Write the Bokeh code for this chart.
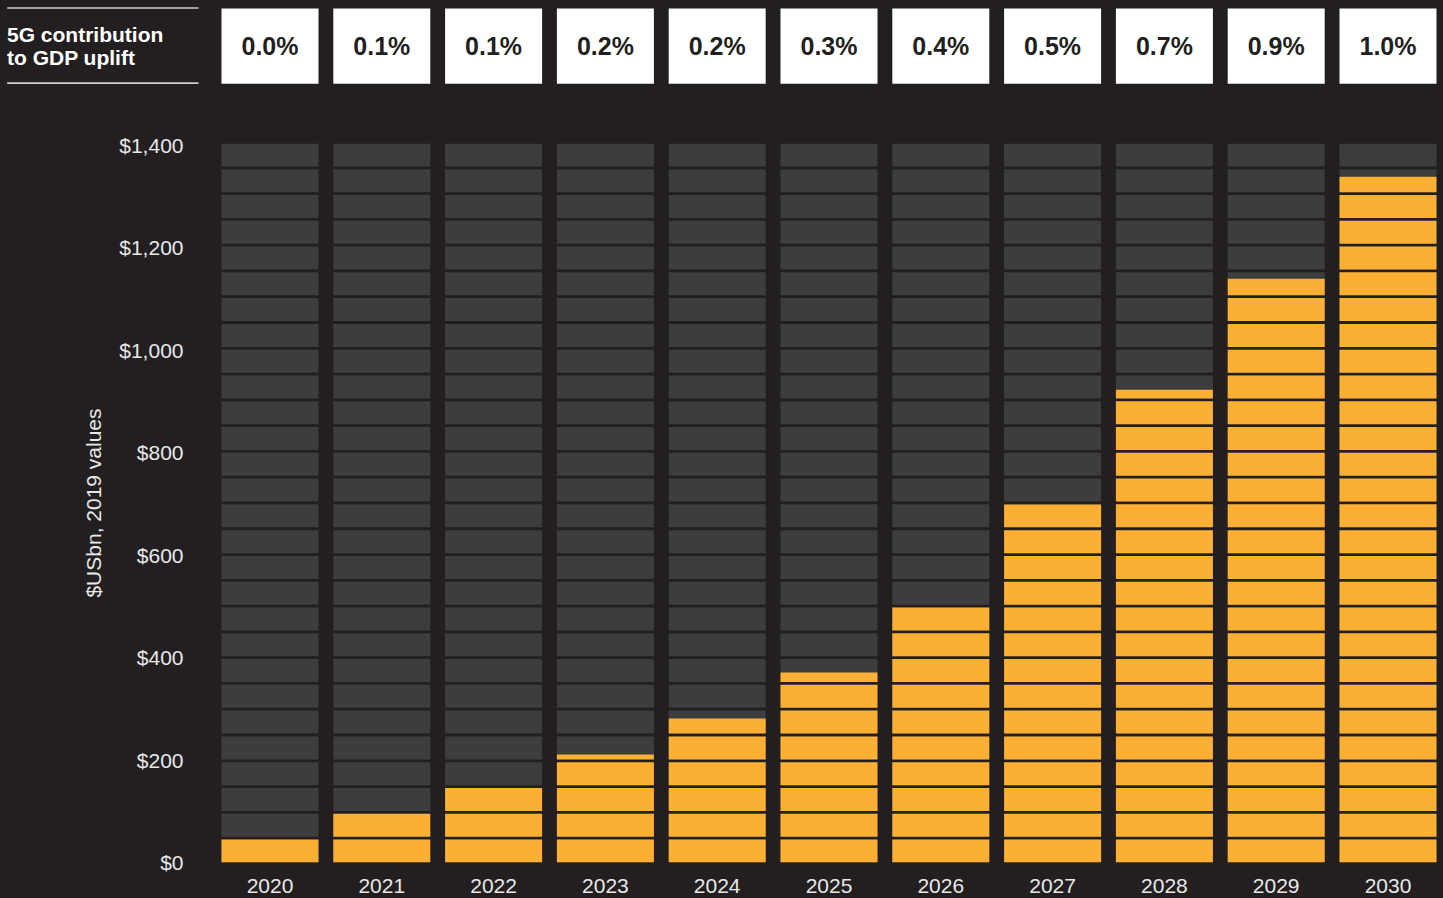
from bokeh.plotting import figure
from bokeh.layouts import column
from bokeh.models import Range1d, FixedTicker, NumeralTickFormatter, GlobalInlineStyleSheet
from bokeh.core.properties import value
from bokeh.embed import file_html
from bokeh.resources import INLINE

# ---------------- data ----------------
years = ["2020", "2021", "2022", "2023", "2024", "2025", "2026", "2027", "2028", "2029", "2030"]
gdp_uplift = [47, 96, 147, 211, 281, 371, 498, 699, 923, 1140, 1339]   # $USbn, 2019 values
gdp_share = ["0.0%", "0.1%", "0.1%", "0.2%", "0.2%", "0.3%", "0.4%", "0.5%", "0.7%", "0.9%", "1.0%"]
y_ticks = [0, 200, 400, 600, 800, 1000, 1200, 1400]
header_lines = ["5G contribution", "to GDP uplift"]
y_title = "$USbn, 2019 values"

# ---------------- style ----------------
BG = "#231f20"
GRAY = "#3d3d3d"
ORANGE = "#fbb034"
TXT = "#e8e8e8"
FONT = "Liberation Sans"

W = 1443
TOP_H = 100
BOT_H = 798
PITCH = 111.8          # px per category
X0 = 269.5             # px centre of first category
FRAME_L = 205
BAR_W = 97 / PITCH

x_start = (FRAME_L - X0) / PITCH
x_end = (W - X0) / PITCH

PX_PER_UNIT = 717 / 1400
Y_END = 719 / PX_PER_UNIT
STRIPE = 25.78 / PX_PER_UNIT
STRIPE_FILL = 23 / PX_PER_UNIT
N_STRIPES = 28

idx = list(range(len(years)))

# ---------------- main chart ----------------
p = figure(width=W, height=BOT_H, title=None,
           x_range=Range1d(x_start, x_end), y_range=Range1d(0, Y_END),
           output_backend="svg", toolbar_location=None,
           min_border_left=FRAME_L, min_border_right=0,
           min_border_top=43, min_border_bottom=36,
           background_fill_color=BG, border_fill_color=BG, outline_line_color=None)
p.frame_align = False

gl, gr, gb, gt = [], [], [], []
ol, orr, ob, ot = [], [], [], []
for i, v in zip(idx, gdp_uplift):
    for j in range(N_STRIPES):
        lo = j * STRIPE
        hi = lo + STRIPE_FILL
        gl.append(i - BAR_W / 2); gr.append(i + BAR_W / 2); gb.append(lo); gt.append(hi)
        if v > lo:
            ol.append(i - BAR_W / 2); orr.append(i + BAR_W / 2); ob.append(lo); ot.append(min(v, hi))

p.quad(left=gl, right=gr, bottom=gb, top=gt, fill_color=GRAY, line_color=None)
p.quad(left=ol, right=orr, bottom=ob, top=ot, fill_color=ORANGE, line_color=None)

p.grid.visible = False

xa = p.xaxis[0]
xa.ticker = FixedTicker(ticks=idx)
xa.major_label_overrides = {i: y for i, y in zip(idx, years)}
xa.axis_line_color = None
xa.major_tick_line_color = None
xa.minor_tick_line_color = None
xa.major_label_text_font = FONT
xa.major_label_text_font_size = "21px"
xa.major_label_text_color = TXT
xa.major_label_standoff = 10

ya = p.yaxis[0]
ya.ticker = FixedTicker(ticks=y_ticks)
ya.formatter = NumeralTickFormatter(format="$0,0")
ya.axis_line_color = None
ya.major_tick_line_color = None
ya.minor_tick_line_color = None
ya.major_tick_out = 0
ya.major_label_text_font = FONT
ya.major_label_text_font_size = "21px"
ya.major_label_text_color = TXT
ya.major_label_standoff = 22
ya.axis_label = y_title
ya.axis_label_text_font = FONT
ya.axis_label_text_font_size = "21px"
ya.axis_label_text_font_style = "normal"
ya.axis_label_text_color = TXT
ya.axis_label_standoff = 11

# ---------------- header strip ----------------
t = figure(width=W, height=TOP_H, title=None,
           x_range=Range1d(-X0 / PITCH, x_end), y_range=Range1d(TOP_H, 0),
           output_backend="svg", toolbar_location=None,
           min_border=0, min_border_left=0, min_border_right=0, min_border_top=0, min_border_bottom=0,
           x_axis_location=None, y_axis_location=None,
           background_fill_color=BG, border_fill_color=BG, outline_line_color=None)
t.frame_align = False
t.extra_x_ranges = {"px": Range1d(0, W)}
t.grid.visible = False

t.quad(left=[i - BAR_W / 2 for i in idx], right=[i + BAR_W / 2 for i in idx],
       top=8, bottom=83.3, fill_color="white", line_color=None)
t.text(x=idx, y=[45] * len(idx), text=gdp_share, text_align="center", text_baseline="middle",
       text_font=value(FONT), text_font_size="25px", text_font_style="bold", text_color=BG)

t.segment(x0=[6.7, 6.7], x1=[198, 198], y0=[7.5, 82.7], y1=[7.5, 82.7],
          line_color="#cfcfcf", line_width=1.7, x_range_name="px")
t.text(x=[6.5, 6.5], y=[34, 57], text=header_lines, text_align="left", text_baseline="alphabetic",
       text_font=value(FONT), text_font_size="21px", text_font_style="bold", text_color="white",
       x_range_name="px")

lay = column(t, p, spacing=0,
             stylesheets=[GlobalInlineStyleSheet(css="html, body {margin:0 !important; padding:0 !important; background:#231f20;}")])

open("out.html", "w").write(file_html(lay, INLINE))
